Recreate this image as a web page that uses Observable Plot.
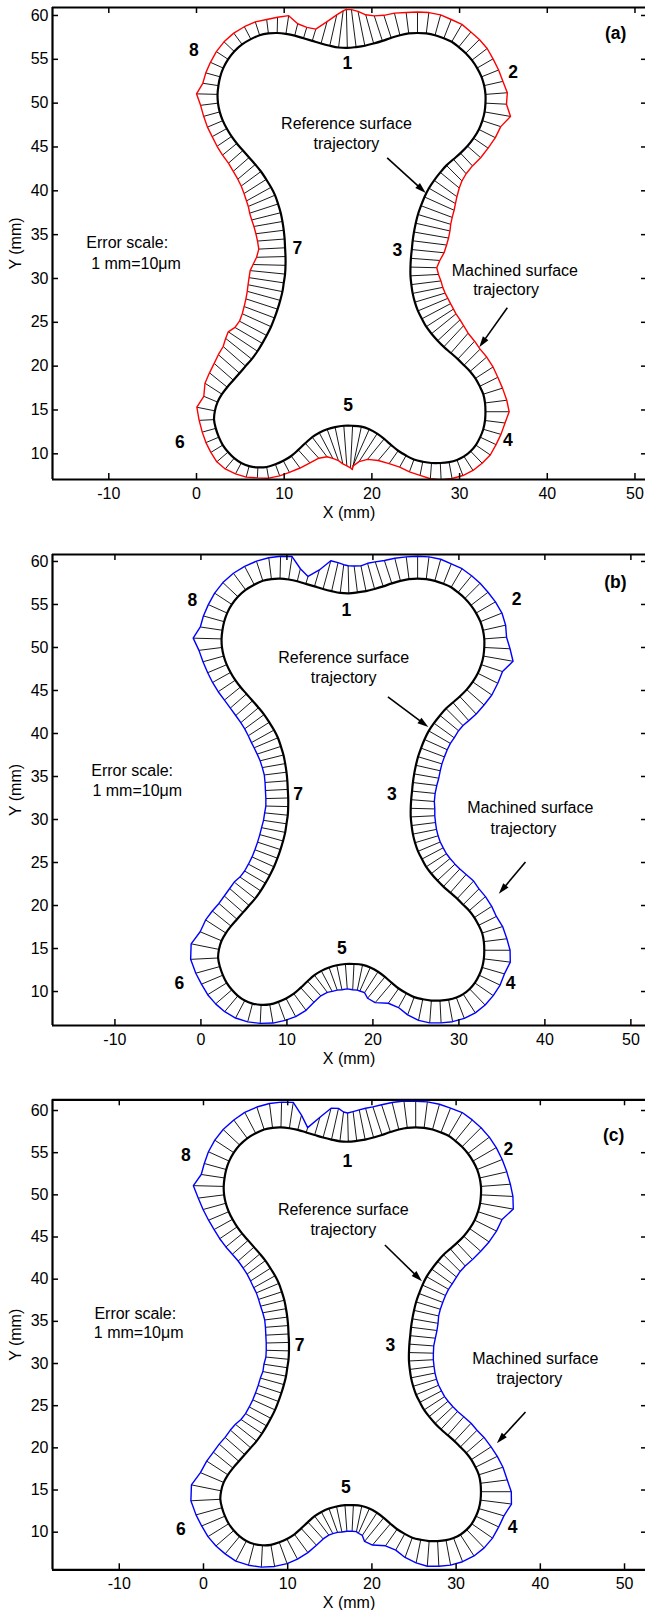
<!DOCTYPE html>
<html><head><meta charset="utf-8">
<script src="https://cdn.jsdelivr.net/npm/d3@7"></script>
<script src="https://cdn.jsdelivr.net/npm/@observablehq/plot@0.6"></script>
<style>
body{margin:0;background:#fff;}
#wrap{position:relative;width:645px;height:1610px;overflow:hidden;background:#fff;}
.panel{position:absolute;left:0;}
</style></head><body><div id="wrap"></div>
<script>
// Reference (nominal) surface trajectory, mm, traversed clockwise from the top dip "1"
const refX = [17.2,18.2,19.2,20.2,21.2,22.2,23.2,24.2,25.2,26.2,
 27.2,28.2,29.1,29.9,30.7,31.4,32.0,32.5,32.8,32.95,
 32.95,32.85,32.6,32.2,31.6,30.9,30.1,29.3,28.5,27.8,
 27.1,26.5,26.0,25.6,25.25,25.0,24.8,24.65,24.55,24.45,
 24.4,24.4,24.5,24.65,24.9,25.25,25.7,26.2,26.8,27.5,
 28.2,29.0,29.8,30.5,31.2,31.8,32.3,32.7,32.9,32.95,
 32.9,32.7,32.35,31.85,31.25,30.5,29.7,28.8,27.8,26.8,
 25.8,24.8,23.9,23.0,22.2,21.4,20.6,19.7,18.8,17.8,
 16.8,15.8,14.9,14.0,13.2,12.4,11.6,10.8,9.9,9.0,
 8.0,7.0,6.0,5.1,4.3,3.6,3.0,2.55,2.2,2.0,
 2.1,2.4,2.9,3.5,4.2,4.9,5.6,6.3,6.95,7.5,
 8.0,8.5,8.9,9.25,9.55,9.8,9.95,10.1,10.15,10.15,
 10.1,10.05,9.95,9.8,9.6,9.3,8.95,8.5,7.95,7.35,
 6.7,6.0,5.3,4.6,4.0,3.45,3.0,2.65,2.45,2.4,
 2.5,2.7,3.05,3.6,4.3,5.2,6.2,7.2,8.2,9.2,
 10.2,11.2,12.2,13.2,14.2,15.2,16.2];
const refY = [56.3,56.4,56.55,56.8,57.1,57.45,57.75,57.95,58.0,57.95,
 57.75,57.4,57.0,56.4,55.7,54.9,54.0,53.0,52.0,51.0,
 50.0,49.0,48.0,47.0,46.0,45.1,44.3,43.6,42.9,42.1,
 41.2,40.3,39.3,38.3,37.3,36.3,35.3,34.3,33.3,32.3,
 31.3,30.3,29.3,28.3,27.3,26.3,25.4,24.5,23.7,22.9,
 22.2,21.5,20.8,20.1,19.4,18.6,17.7,16.8,15.8,14.8,
 13.8,12.8,11.9,11.0,10.3,9.7,9.3,9.05,8.95,8.95,
 9.1,9.35,9.8,10.35,11.0,11.7,12.3,12.8,13.1,13.2,
 13.2,13.05,12.8,12.4,11.9,11.2,10.45,9.75,9.2,8.8,
 8.5,8.45,8.6,8.95,9.5,10.2,11.0,11.9,12.9,13.9,
 14.9,15.9,16.8,17.6,18.4,19.2,20.0,20.8,21.7,22.6,
 23.5,24.5,25.5,26.5,27.5,28.5,29.5,30.5,31.5,32.5,
 33.5,34.5,35.5,36.5,37.5,38.5,39.5,40.4,41.3,42.2,
 43.0,43.8,44.6,45.4,46.2,47.1,48.0,49.0,50.0,51.0,
 52.0,53.0,54.0,55.0,55.9,56.7,57.3,57.75,57.95,58.0,
 57.9,57.7,57.4,57.1,56.8,56.55,56.35];
// Plotted error (mm on the plot; 1 mm = 10 µm), one value per reference point
const errA = [4.4,4.3,4.0,3.4,3.0,2.7,2.6,2.4,2.4,2.4,
 2.4,2.3,2.3,2.2,2.2,2.2,2.1,2.1,2.2,2.5,
 2.4,3.0,2.2,2.1,2.0,2.0,2.0,2.2,2.5,2.8,
 3.2,3.5,3.7,3.8,3.9,4.0,4.0,3.9,3.7,3.3,
 3.0,3.2,3.4,3.5,3.6,3.7,3.7,3.7,3.6,3.5,
 3.3,3.0,2.8,2.6,2.5,2.4,2.3,2.3,2.5,2.7,
 2.3,2.1,2.0,2.0,1.9,1.9,1.9,1.9,1.9,1.8,
 1.6,1.5,1.5,1.8,2.3,3.0,3.8,4.6,5.0,4.8,
 4.6,4.3,3.8,3.3,2.8,2.3,2.0,1.7,1.5,1.4,
 1.3,1.2,1.3,1.4,1.6,1.7,1.6,1.6,1.6,1.7,
 2.1,1.7,2.3,2.6,2.9,3.2,3.4,3.8,4.0,3.6,
 3.5,3.6,3.7,3.8,3.9,4.0,4.0,4.0,3.7,3.3,
 3.0,3.1,3.2,3.3,3.4,3.4,3.3,3.2,3.0,2.8,
 2.6,2.4,2.2,2.1,2.0,1.9,1.9,1.9,2.0,2.4,
 1.8,1.7,1.6,1.6,1.6,1.6,1.6,1.6,1.6,1.8,
 2.1,1.4,1.3,1.4,2.6,3.6,4.2];
const errB = [3.2,3.1,3.0,3.1,3.0,2.8,2.7,2.6,2.6,2.6,
 2.6,2.5,2.5,2.5,2.5,2.5,2.6,2.7,2.7,2.6,
 3.0,3.5,2.6,2.6,2.7,2.7,2.8,2.8,2.8,2.8,
 2.9,2.9,2.9,2.9,2.9,2.9,2.9,2.8,2.7,2.7,
 2.8,2.8,2.8,2.8,2.8,2.8,2.8,2.8,2.8,2.8,
 2.8,2.8,2.8,2.6,2.5,2.4,2.3,2.5,2.7,3.0,
 3.1,2.7,2.7,2.6,2.6,2.6,2.6,2.6,2.6,2.6,
 2.5,2.2,1.9,2.1,3.0,3.2,2.9,3.0,3.0,3.0,
 2.9,2.9,2.8,2.7,2.5,2.3,2.3,2.4,2.4,2.3,
 2.2,2.15,2.2,2.3,2.4,2.5,2.6,2.7,2.9,3.2,
 3.3,2.7,2.8,2.8,2.8,2.9,3.0,3.1,2.9,2.8,
 2.8,2.8,2.8,2.8,2.8,2.8,2.7,2.7,2.6,2.6,
 2.6,2.6,2.6,2.7,2.8,2.9,3.0,3.0,2.9,2.8,
 2.7,2.6,2.5,2.4,2.4,2.4,2.4,2.5,2.7,3.3,
 2.6,2.5,2.4,2.4,2.4,2.4,2.4,2.4,2.5,2.6,
 2.7,1.5,0.9,2.0,3.4,3.4,3.3];
const errC = [3.4,3.5,3.6,3.6,3.5,3.4,3.3,3.2,3.1,3.1,
 3.1,3.1,3.2,3.2,3.2,3.2,3.2,3.2,3.3,3.5,
 3.8,4.0,3.0,2.9,2.8,2.7,2.7,2.7,2.8,2.9,
 3.0,3.0,3.0,3.0,3.0,3.0,3.1,3.1,3.0,2.9,
 2.9,2.9,2.9,2.9,2.9,2.9,2.9,2.9,2.9,2.9,
 2.9,2.9,2.9,2.8,2.8,2.8,2.9,3.0,3.2,3.6,
 3.7,3.1,3.0,3.0,3.0,3.0,3.0,3.0,3.0,3.0,
 2.8,2.5,2.2,2.4,3.3,3.6,3.2,3.2,3.1,3.1,
 3.1,3.1,3.0,2.9,2.8,2.7,2.7,2.7,2.7,2.7,
 2.6,2.6,2.6,2.7,2.7,2.8,2.9,3.0,3.2,3.5,
 3.6,3.0,3.0,3.0,3.1,3.1,3.2,3.2,3.0,2.9,
 2.9,2.9,2.9,2.9,2.9,2.8,2.8,2.7,2.7,2.7,
 2.7,2.7,2.7,2.8,2.9,2.9,2.9,2.9,2.8,2.7,
 2.6,2.5,2.5,2.5,2.5,2.5,2.6,2.8,3.1,3.6,
 2.8,2.7,2.7,2.7,2.7,2.7,2.8,2.8,2.9,3.0,
 3.1,1.8,0.6,2.2,3.6,3.8,3.5];
const xTicks = [-10, 0, 10, 20, 30, 40, 50];
const yTicks = [10, 15, 20, 25, 30, 35, 40, 45, 50, 55, 60];
const regionLabels = ["1", "2", "3", "4", "5", "6", "7", "8"];
const panelTags = ["(a)", "(b)", "(c)"];
const errorSeries = [errA, errB, errC];
const machinedColors = ["#ff0000", "#0000ff", "#0000ff"];
const noteTexts = ["Reference surface", "trajectory", "Error scale:", "1 mm=10\u03bcm", "Machined surface", "trajectory"];

// layout (pixel frame + label placement in data units)
const specs = [
  {top: 0, height: 530, mt: 7, mb: 51, xd: [-16.42, 51.20], yd: [7.07, 60.91],
   lab: [[17.2,54.5],[36.1,53.5],[22.9,33.2],[35.5,11.5],[17.3,15.5],[-1.9,11.3],[11.5,33.4],[-0.3,56.0]], tag: [47.8,58.0],
   notes: [[17.1,47.6],[17.1,45.3],[-7.9,34.1],[-6.9,31.7],[36.3,30.9],[35.3,28.7]],
   arrows: [[21.8,43.7,26.2,39.7],[35.5,26.6,32.3,22.1]]},
  {top: 530, height: 546, mt: 24, mb: 51, xd: [-17.26, 51.70], yd: [6.05, 60.81],
   lab: [[16.9,54.3],[36.7,55.6],[22.2,32.9],[36.0,10.9],[16.4,15.0],[-2.5,11.0],[11.3,32.9],[-1.0,55.5]], tag: [48.2,57.6],
   notes: [[16.6,48.8],[16.6,46.5],[-8.0,35.7],[-7.4,33.3],[38.3,31.3],[37.5,28.9]],
   arrows: [[21.8,44.2,26.5,40.7],[37.8,25.0,34.7,21.3]]},
  {top: 1076, height: 534, mt: 23.3, mb: 40.7, xd: [-17.93, 52.49], yd: [5.54, 61.27],
   lab: [[17.1,54.0],[36.2,55.4],[22.2,32.1],[36.7,10.6],[16.9,15.3],[-2.7,10.3],[11.4,32.1],[-2.1,54.7]], tag: [48.7,57.1],
   notes: [[16.6,48.2],[16.6,45.9],[-8.1,35.9],[-7.7,33.6],[39.4,30.6],[38.7,28.2]],
   arrows: [[21.6,44.0,26.0,39.7],[38.3,24.2,34.9,20.5]]}
];

const W = 645, ML = 52;

function arrowMark(arrs) {
  return (index, scales) => {
    const g = d3.create("svg:g");
    for (const a of arrs) {
      const X1 = scales.x(a[0]), Y1 = scales.y(a[1]), X2 = scales.x(a[2]), Y2 = scales.y(a[3]);
      const ang = Math.atan2(Y2 - Y1, X2 - X1), c = Math.cos(ang), s = Math.sin(ang);
      const L = 11, H = 3.4, bx = X2 - L * c, by = Y2 - L * s;
      g.append("line").attr("x1", X1).attr("y1", Y1).attr("x2", bx + 2 * c).attr("y2", by + 2 * s)
        .attr("stroke", "#000").attr("stroke-width", 1.6);
      g.append("path").attr("d", `M${X2},${Y2}L${bx - H * s},${by + H * c}L${bx + H * s},${by - H * c}Z`).attr("fill", "#000");
    }
    return g.node();
  };
}

function panel(k) {
  const spec = specs[k], err = errorSeries[k];
  const n = refX.length;
  const ref = refX.map((x, i) => ({x, y: refY[i]}));
  const vec = ref.map((d, i) => {
    const a = ref[(i - 1 + n) % n], b = ref[(i + 1) % n];
    const tx = b.x - a.x, ty = b.y - a.y, L = Math.hypot(tx, ty);
    return {x1: d.x, y1: d.y, x2: d.x - ty / L * err[i], y2: d.y + tx / L * err[i]};
  });
  const mach = vec.map(v => ({x: v.x2, y: v.y2}));
  mach.push(mach[0]);
  const fh = spec.height - spec.mt - spec.mb, fw = W - ML;
  const labels = regionLabels.map((t, i) => ({t, x: spec.lab[i][0], y: spec.lab[i][1]}));
  labels.push({t: panelTags[k], x: spec.tag[0], y: spec.tag[1]});
  const notes = noteTexts.map((t, i) => ({t, x: spec.notes[i][0], y: spec.notes[i][1]}));
  return Plot.plot({
    width: W, height: spec.height,
    marginLeft: ML, marginRight: 0, marginTop: spec.mt, marginBottom: spec.mb,
    x: {domain: spec.xd}, y: {domain: spec.yd},
    style: {fontFamily: "'Liberation Sans', Arial, Helvetica, sans-serif", fontSize: "16px", color: "#000", background: "transparent"},
    marks: [
      Plot.link(vec, {x1: "x1", y1: "y1", x2: "x2", y2: "y2", stroke: "#000", strokeWidth: 0.9, clip: true}),
      Plot.line(ref, {x: "x", y: "y", curve: "catmull-rom-closed", stroke: "#000", strokeWidth: 2.2}),
      Plot.line(mach, {x: "x", y: "y", stroke: machinedColors[k], strokeWidth: 1.4, clip: true}),
      Plot.tickX(xTicks, {x: d => d, insetTop: fh - 6, stroke: "#000", strokeWidth: 1.5}),
      Plot.tickX(xTicks, {x: d => d, insetBottom: fh - 6, stroke: "#000", strokeWidth: 1.5}),
      Plot.tickY(yTicks, {y: d => d, insetRight: fw - 6, stroke: "#000", strokeWidth: 1.5}),
      Plot.tickY(yTicks, {y: d => d, insetLeft: fw - 4, stroke: "#000", strokeWidth: 1.5}),
      Plot.ruleX([spec.xd[0]], {stroke: "#000", strokeWidth: 2.2}),
      Plot.ruleY([spec.yd[0]], {stroke: "#000", strokeWidth: 2.2}),
      Plot.ruleY([spec.yd[1]], {stroke: "#000", strokeWidth: 2.2}),
      Plot.axisX({ticks: xTicks, tickSize: 0, tickPadding: 8, tickFormat: d => String(d), label: null, fontSize: 16}),
      Plot.axisY({ticks: yTicks, tickSize: 0, tickPadding: 4, tickFormat: d => String(d), label: null, fontSize: 16}),
      Plot.text(["X (mm)"], {frameAnchor: "bottom", text: d => d, dy: 33, lineAnchor: "middle", textAnchor: "middle", fontSize: 16}),
      Plot.text(["Y (mm)"], {frameAnchor: "left", text: d => d, rotate: -90, dx: -37, lineAnchor: "middle", textAnchor: "middle", fontSize: 16}),
      Plot.text(labels, {x: "x", y: "y", text: "t", fontWeight: "bold", fontSize: 17.5}),
      Plot.text(notes, {x: "x", y: "y", text: "t", fontSize: 16}),
      arrowMark(spec.arrows)
    ]
  });
}

const wrap = document.getElementById("wrap");
specs.forEach((s, k) => {
  const div = document.createElement("div");
  div.className = "panel";
  div.style.top = s.top + "px";
  div.appendChild(panel(k));
  wrap.appendChild(div);
});
</script></body></html>
